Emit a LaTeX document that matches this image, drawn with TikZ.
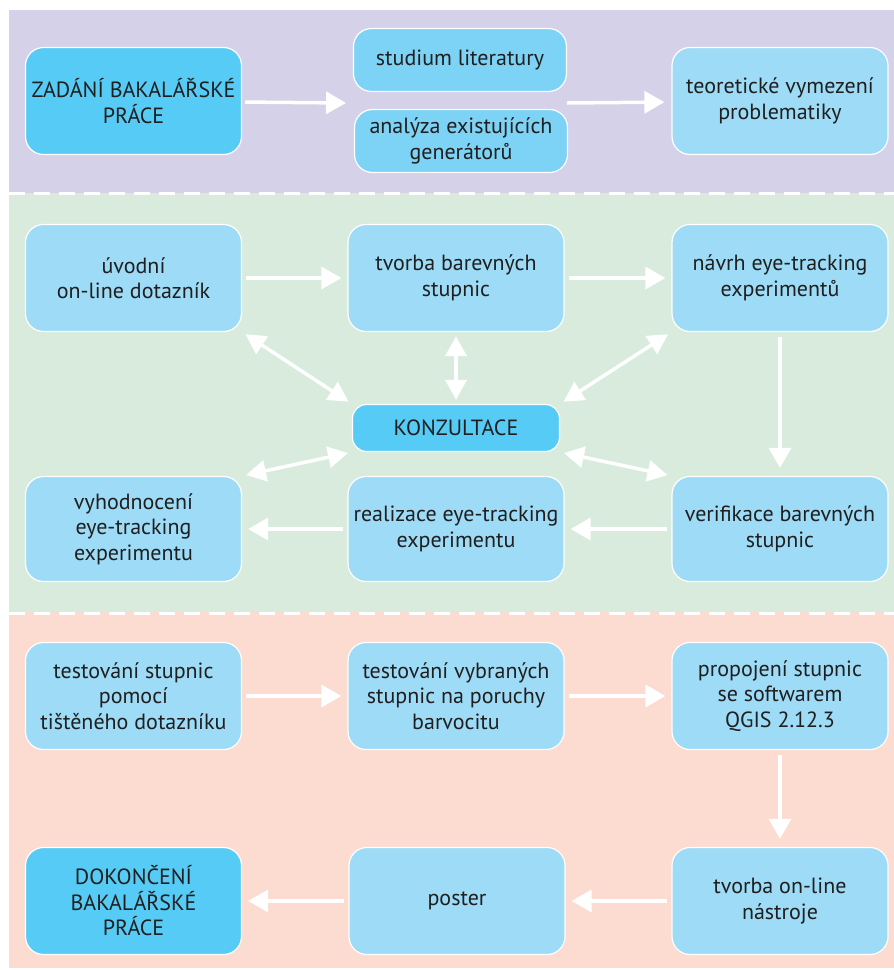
\documentclass[tikz,border=0pt]{standalone}
\usepackage{fontspec}
\setmainfont{PT Sans}
\usetikzlibrary{arrows.meta}
\definecolor{bandtop}{HTML}{D4D1E8}
\definecolor{bandmid}{HTML}{D8EBDD}
\definecolor{bandlow}{HTML}{FCDCD1}
\definecolor{boxkey}{HTML}{56CBF5}
\definecolor{boxlit}{HTML}{7DD3F5}
\definecolor{boxlight}{HTML}{9DDBF6}

\begin{document}
\begin{tikzpicture}[x=1pt,y=-1pt,line join=round,
  stage/.style={draw=white,line width=1.2pt,rounded corners=18pt,fill=boxlight,
    minimum width=216pt,minimum height=107pt,align=center,inner sep=2pt,
    font=\fontsize{22}{25.5}\selectfont,text=black!88},
  keystage/.style={stage,fill=boxkey},
  litstage/.style={stage,fill=boxlit,minimum width=213pt,minimum height=63pt},
  flow/.style={draw=white,line width=3.5pt,-{Triangle[length=20pt,width=22pt]}},
  both/.style={draw=white,line width=3.5pt,{Triangle[length=20pt,width=21pt]}-{Triangle[length=20pt,width=21pt]},shorten >=4pt,shorten <=4pt},
  sep/.style={draw=white,line width=3pt,dash pattern=on 16pt off 9pt}]
  \useasboundingbox (0,0) rectangle (894,970);
  % bands
  \fill[bandtop] (9,10) rectangle (894,193);
  \fill[bandmid] (9,193) rectangle (894,612);
  \fill[bandlow] (9,612) rectangle (894,968);
  \draw[sep] (9,193) -- (894,193);
  \draw[sep] (9,613) -- (894,613);
  % top band
  \node[keystage] (zad) at (133.5,101) {ZADÁNÍ BAKALÁŘSKÉ\\PRÁCE};
  \node[litstage] (stud) at (460,60) {studium literatury};
  \node[litstage] (anal) at (461,141) {analýza existujících\\generátorů};
  \node[stage] (teor) at (780,101) {teoretické vymezení\\problematiky};
  \coordinate (litin) at (346,103);
  \coordinate (litout) at (567,103);
  % middle band
  \node[stage] (uvod) at (133.5,278) {úvodní\\on-line dotazník};
  \node[stage] (tvor) at (456,278) {tvorba barevných\\stupnic};
  \node[stage] (navr) at (780,278) {návrh eye-tracking\\experimentů};
  \node[keystage,minimum width=207pt,minimum height=47pt,rounded corners=14pt] (konz) at (456,428) {KONZULTACE};
  \node[stage,minimum height=105pt] (vyho) at (133.5,529) {vyhodnocení\\eye-tracking\\experimentu};
  \node[stage,minimum height=105pt] (real) at (456,529) {realizace eye-tracking\\experimentu};
  \node[stage,minimum height=105pt] (veri) at (780,529) {verifikace barevných\\stupnic};
  % bottom band
  \node[stage] (test) at (133.5,696) {testování stupnic\\pomocí\\tištěného dotazníku};
  \node[stage] (vybr) at (456,696) {testování vybraných\\stupnic na poruchy\\barvocitu};
  \node[stage] (prop) at (780,696) {propojení stupnic\\se softwarem\\QGIS 2.12.3};
  \node[stage] (onln) at (780,901) {tvorba on-line\\nástroje};
  \node[stage] (post) at (457,901) {poster};
  \node[keystage] (dokn) at (133.5,901) {DOKONČENÍ\\BAKALÁŘSKÉ\\PRÁCE};
  % arrows
  \draw[flow,shorten <=3pt] (zad) -- (litin);
  \draw[flow,shorten >=7pt] (litout) -- (teor);
  \foreach \a/\b in {uvod/tvor,tvor/navr,veri/real,real/vyho,test/vybr,vybr/prop,onln/post,post/dokn}
    \draw[flow,shorten <=4pt,shorten >=6pt] (\a) -- (\b);
  \draw[flow,shorten <=5pt,shorten >=8pt] (navr) -- (veri);
  \draw[flow,shorten <=5pt,shorten >=8pt] (prop) -- (onln);
  \draw[both] (uvod.south east) -- (konz.north west);
  \draw[both] (tvor.south) -- (konz.north);
  \draw[both] (navr.south west) -- (konz.north east);
  \draw[both] (konz.south east) -- (veri.north west);
  \draw[both] (konz.south west) -- (vyho.north east);
\end{tikzpicture}
\end{document}
